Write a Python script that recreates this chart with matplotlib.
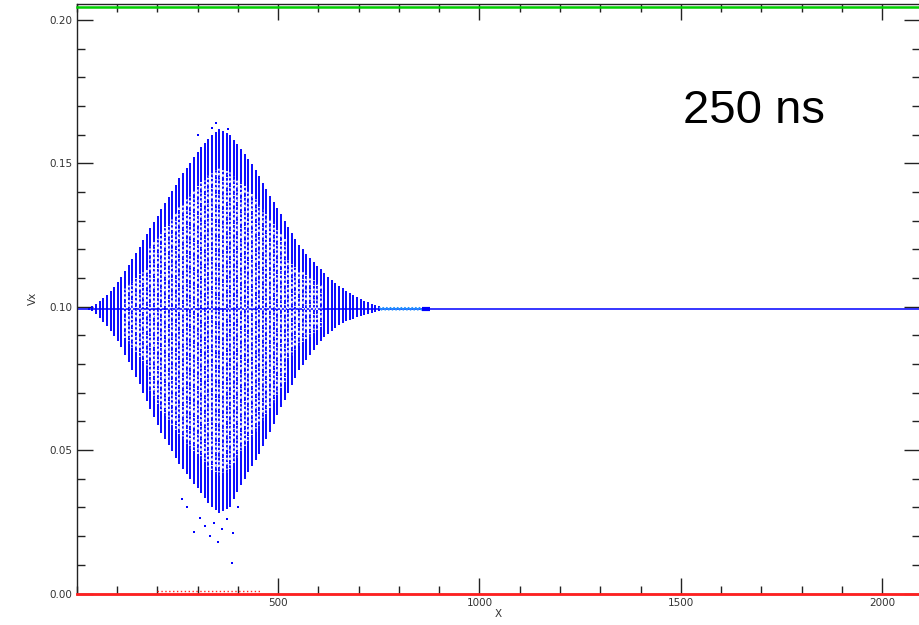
import matplotlib
matplotlib.use("Agg")
import matplotlib.pyplot as plt
from matplotlib.ticker import MultipleLocator, FixedLocator

# ---------------- data ----------------
baseline_vx = 0.0993
green_vx = 0.2045
red_vx = 0.0

stripe_x = [30, 39, 48, 57, 66, 75, 84, 93, 102, 111, 120, 129, 138, 147, 156,
            165, 174, 183, 192, 201, 210, 219, 228, 237, 246, 255, 264, 273, 282,
            291, 300, 309, 318, 327, 336, 345, 354, 363, 372, 381, 390, 399, 408,
            417, 426, 435, 444, 453, 462, 471, 480, 489, 498, 507, 516, 525, 534,
            543, 552, 561, 570, 579, 588, 597, 606, 615, 624, 633, 642, 651, 660,
            669, 678, 687, 696, 705, 714, 723, 732, 741, 750]
stripe_top = [0.0996, 0.1001, 0.1010, 0.1019, 0.1030, 0.1041, 0.1054, 0.1070, 0.1087,
              0.1105, 0.1125, 0.1146, 0.1167, 0.1188, 0.1210, 0.1232, 0.1253, 0.1275,
              0.1296, 0.1318, 0.1340, 0.1361, 0.1383, 0.1404, 0.1426, 0.1448, 0.1466,
              0.1484, 0.1502, 0.1521, 0.1540, 0.1556, 0.1571, 0.1585, 0.1598, 0.1610,
              0.1620, 0.1612, 0.1606, 0.1598, 0.1583, 0.1568, 0.1552, 0.1534, 0.1516,
              0.1497, 0.1477, 0.1457, 0.1433, 0.1411, 0.1388, 0.1366, 0.1344, 0.1323,
              0.1300, 0.1277, 0.1256, 0.1237, 0.1217, 0.1201, 0.1184, 0.1169, 0.1156,
              0.1143, 0.1131, 0.1118, 0.1105, 0.1094, 0.1083, 0.1072, 0.1064, 0.1056,
              0.1048, 0.1040, 0.1033, 0.1026, 0.1020, 0.1015, 0.1010, 0.1006, 0.1002]
stripe_bot = [0.0990, 0.0985, 0.0974, 0.0962, 0.0947, 0.0932, 0.0916, 0.0898, 0.0880,
              0.0858, 0.0832, 0.0806, 0.0780, 0.0755, 0.0730, 0.0701, 0.0672, 0.0644,
              0.0615, 0.0586, 0.0560, 0.0539, 0.0517, 0.0496, 0.0474, 0.0452, 0.0434,
              0.0416, 0.0398, 0.0383, 0.0368, 0.0352, 0.0334, 0.0316, 0.0302, 0.0290,
              0.0281, 0.0288, 0.0294, 0.0303, 0.0329, 0.0355, 0.0380, 0.0401, 0.0423,
              0.0444, 0.0466, 0.0488, 0.0514, 0.0539, 0.0563, 0.0592, 0.0621, 0.0649,
              0.0675, 0.0701, 0.0727, 0.0752, 0.0778, 0.0796, 0.0814, 0.0832, 0.0848,
              0.0865, 0.0880, 0.0893, 0.0905, 0.0916, 0.0927, 0.0938, 0.0944, 0.0950,
              0.0955, 0.0959, 0.0963, 0.0967, 0.0971, 0.0976, 0.0979, 0.0982, 0.0985]

# scattered outlier particles below/above the bulk
outlier_x = [262, 275, 290, 305, 318, 330, 341, 352, 360, 372, 388, 400, 300, 345, 376, 335]
outlier_vx = [0.0330, 0.0300, 0.0215, 0.0265, 0.0235, 0.0200, 0.0245, 0.0180, 0.0225,
              0.0260, 0.0210, 0.0300, 0.1600, 0.1640, 0.1620, 0.1625]
lone_x = [385]
lone_vx = [0.0108]

wiggle_x = [752, 757, 761, 766, 770, 775, 779, 784, 788, 793, 797, 802, 806, 811, 815,
            820, 824, 829, 833, 838, 842, 847, 851, 856, 860]
wiggle_vx = [0.0997, 0.0989, 0.0997, 0.0989, 0.0997, 0.0989, 0.0997, 0.0989, 0.0997,
             0.0989, 0.0997, 0.0989, 0.0997, 0.0989, 0.0997, 0.0989, 0.0997, 0.0989,
             0.0997, 0.0989, 0.0997, 0.0989, 0.0997, 0.0989, 0.0994]
blob_x = [858, 876]

red_dots_x = [200, 455]

x_major = [500, 1000, 1500, 2000]
x_major_labels = ["500", "1000", "1500", "2000"]
y_major = [0.00, 0.05, 0.10, 0.15, 0.20]
y_major_labels = ["0.00", "0.05", "0.10", "0.15", "0.20"]
x_lim = (0, 2094)
y_lim = (0.0, 0.2056)
annotation = "250 ns"

# ---------------- figure ----------------
fig = plt.figure(figsize=(9.2, 6.25), dpi=100)
ax = fig.add_axes([0.0834, 0.0504, 0.9166, 0.9432])
ax.set_xlim(*x_lim)
ax.set_ylim(*y_lim)

blue = "#0000ff"
# baseline
ax.plot([x_lim[0], x_lim[1]], [baseline_vx, baseline_vx], color=blue, lw=1.1, zorder=2)
# bulk stripes
ax.vlines(stripe_x, stripe_bot, stripe_top, color=blue, lw=1.35, zorder=3)

# speckle: white gaps in the interior of the bulk (central stripes only)
sx, lo, hi, styles, styles2 = [], [], [], [], []
offsets = [0.0, 1.3, 0.6, 2.1, 0.3, 1.7, 0.9, 2.5, 1.1, 0.4]
for i, (x, b, t) in enumerate(zip(stripe_x, stripe_bot, stripe_top)):
    h = t - b
    if h < 0.025:
        continue
    frac = 0.10 if h > 0.06 else 0.2
    sx.append(x)
    lo.append(b + frac * h)
    hi.append(t - frac * h)
    o = offsets[i % len(offsets)]
    styles.append((o, (0.9, 1.3, 0.5, 2.0, 1.2, 1.1)))
    styles2.append((o + 2.2, (0.6, 2.6, 1.0, 1.8)))
ax.vlines(sx, lo, hi, color="white", lw=1.5, linestyles=styles, alpha=0.9, zorder=4)
ax.vlines(sx, lo, hi, color="#7070ff", lw=0.7, linestyles=styles2, alpha=0.9, zorder=4)

ax.scatter(outlier_x + lone_x, outlier_vx + lone_vx, s=1.5, color=blue, marker="s",
           linewidths=0, zorder=5)
# light-blue wiggle and dark blob
ax.plot(wiggle_x, wiggle_vx, color="#1e90ff", lw=1.1, zorder=5)
ax.plot(blob_x, [baseline_vx, baseline_vx], color=blue, lw=3.0, zorder=5,
        solid_capstyle="butt")

# boundary lines
ax.plot([x_lim[0], x_lim[1]], [green_vx, green_vx], color="#00d000", lw=1.8, zorder=6,
        clip_on=False)
ax.plot([x_lim[0], x_lim[1]], [red_vx, red_vx], color="#ff2020", lw=2.0, zorder=6,
        clip_on=False)
ax.plot(red_dots_x, [0.0008, 0.0008], color="#ff2020", lw=1.0,
        linestyle=(0, (1.0, 1.8)), zorder=6)

# axes styling (IDL-like)
for s in ax.spines.values():
    s.set_color("#222222")
    s.set_linewidth(1.0)
ax.xaxis.set_major_locator(FixedLocator(x_major))
ax.set_xticklabels(x_major_labels)
ax.xaxis.set_minor_locator(MultipleLocator(100))
ax.yaxis.set_major_locator(FixedLocator(y_major))
ax.set_yticklabels(y_major_labels)
ax.yaxis.set_minor_locator(MultipleLocator(0.01))
ax.tick_params(which="both", direction="in", top=True, right=True,
               color="#222222", width=1.0, labelsize=7.5, labelcolor="#333333")
ax.tick_params(which="major", length=11.5, pad=3)
ax.tick_params(which="minor", length=6)

ax.set_xlabel("X", fontsize=7.5, color="#333333", labelpad=1)
ax.set_ylabel("Vx", fontsize=7.5, color="#333333", labelpad=8)

ax.text(1506, 0.1641, annotation, fontsize=34, family="Liberation Sans",
        ha="left", va="baseline", color="black", zorder=7)

fig.savefig("out.png", dpi=100)
